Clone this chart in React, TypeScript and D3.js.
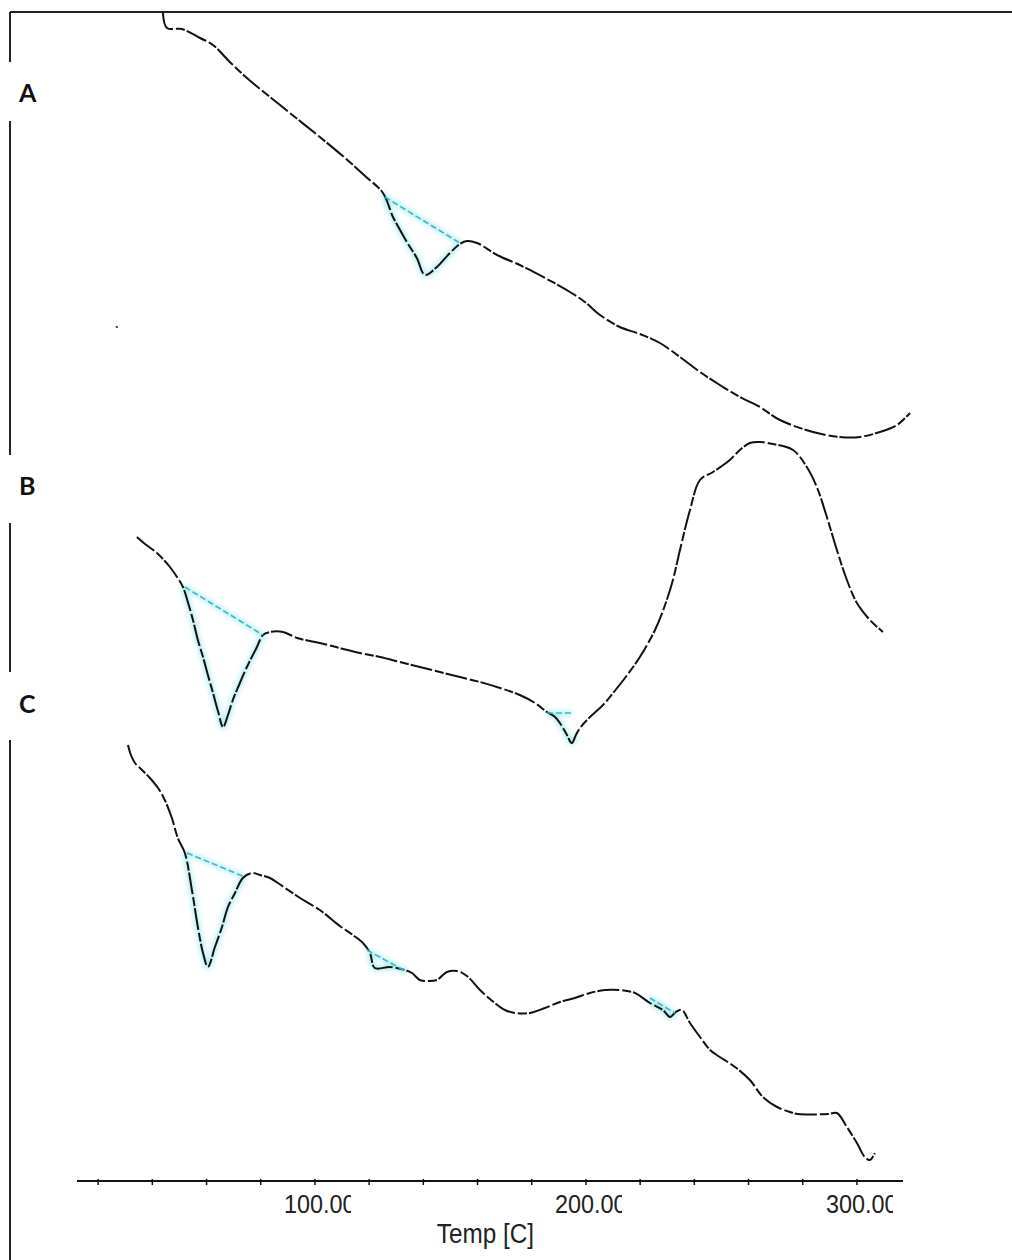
import React from 'react'
import * as d3 from 'd3'

const W = 1012
const H = 1260

// DSC traces, temperature in C and heat flow in stacked arbitrary units
const tempA = [43.9, 45.4, 50.9, 57.6, 62.4, 68.6, 74.9, 83.4, 92.6, 101.8, 111.1, 118.5, 125.1, 128.8, 131.4, 133.9, 137.6, 140.6, 145.0, 149.8, 153.5, 156.1, 159.8, 167.2, 175.6, 184.9, 194.1, 199.6, 205.2, 212.5, 219.9, 227.3, 234.7, 242.1, 249.4, 256.8, 264.2, 271.6, 283.8, 293.7, 301.1, 308.5, 314.8, 319.6]
const flowA = [116.8, 115.3, 115.2, 114.3, 113.6, 111.9, 110.3, 108.4, 106.4, 104.4, 102.3, 100.5, 98.8, 96.4, 95.1, 93.9, 92.3, 90.6, 91.4, 92.8, 93.7, 94.0, 93.8, 92.6, 91.6, 90.3, 88.9, 87.9, 86.6, 85.4, 84.7, 83.8, 82.4, 80.9, 79.6, 78.4, 77.4, 76.1, 74.9, 74.4, 74.4, 74.9, 75.6, 76.8]

const tempB = [34.3, 37.3, 41.7, 44.6, 46.5, 49.1, 51.3, 53.1, 55.0, 56.8, 58.7, 60.5, 62.4, 64.2, 66.1, 67.9, 69.7, 72.3, 74.9, 78.6, 80.8, 83.4, 88.2, 93.4, 101.8, 109.2, 116.6, 124.0, 131.4, 138.7, 146.1, 153.5, 160.9, 168.3, 175.6, 181.2, 185.6, 188.6, 190.4, 192.6, 194.8, 196.3, 197.8, 201.5, 206.3, 210.0, 214.4, 219.9, 225.5, 229.2, 232.1, 234.7, 238.4, 242.1, 246.9, 253.1, 256.8, 260.5, 264.2, 269.0, 276.4, 281.5, 285.2, 288.9, 292.6, 296.3, 300.0, 304.8, 309.6]
const flowB = [64.4, 63.7, 62.8, 62.0, 61.4, 60.4, 59.4, 57.9, 56.1, 54.1, 52.4, 50.6, 48.8, 47.0, 45.4, 46.6, 48.1, 49.8, 51.4, 53.4, 54.6, 54.9, 54.9, 54.3, 53.8, 53.3, 52.8, 52.4, 51.9, 51.4, 50.9, 50.4, 49.9, 49.3, 48.6, 47.8, 46.9, 46.4, 45.8, 44.8, 43.8, 44.6, 45.3, 46.4, 47.6, 48.8, 50.3, 52.4, 55.1, 57.6, 60.1, 63.1, 67.1, 70.1, 70.9, 72.1, 73.1, 73.8, 73.9, 73.7, 73.1, 71.4, 69.4, 66.4, 63.1, 60.1, 57.8, 56.1, 54.9]

const tempC = [31.0, 32.1, 33.6, 36.2, 39.1, 42.1, 44.6, 47.2, 49.4, 52.0, 54.6, 56.8, 58.7, 60.5, 63.1, 65.7, 67.9, 70.5, 73.4, 76.8, 79.7, 83.4, 86.3, 94.5, 101.8, 109.2, 114.0, 117.7, 120.3, 122.1, 127.7, 133.2, 135.8, 138.7, 141.7, 145.0, 148.7, 152.4, 156.1, 160.9, 166.4, 170.1, 173.8, 179.3, 184.9, 190.4, 195.9, 201.5, 207.0, 212.5, 218.1, 223.6, 228.4, 231.0, 233.2, 235.4, 238.4, 242.1, 245.8, 249.4, 255.0, 260.5, 265.3, 270.5, 275.3, 278.2, 289.3, 292.6, 296.3, 300.0, 302.9, 304.8, 306.6]
const flowC = [43.6, 42.6, 41.8, 41.1, 40.3, 39.3, 38.1, 36.3, 34.3, 32.8, 29.1, 25.4, 22.8, 21.4, 23.4, 25.4, 27.4, 28.8, 30.3, 30.8, 30.6, 30.3, 29.8, 28.3, 27.1, 25.5, 24.6, 23.8, 22.8, 21.3, 21.4, 21.1, 20.8, 20.1, 20.0, 20.1, 20.9, 21.0, 20.5, 19.1, 17.8, 17.1, 16.8, 16.8, 17.3, 17.9, 18.3, 18.8, 19.1, 19.1, 18.8, 17.8, 17.1, 16.4, 16.9, 17.1, 15.8, 14.4, 13.1, 12.4, 11.4, 10.1, 8.4, 7.4, 6.9, 6.7, 6.7, 6.8, 5.4, 3.8, 2.4, 2.1, 2.8]

// integration baselines: [onset temp, onset flow, end temp, end flow], one per peak
const baseA = [[125.8, 98.4, 153.5, 93.8]]
const baseB = [[52.0, 59.4, 80.8, 54.6], [185.6, 46.8, 194.8, 46.8]]
const baseC = [[52.8, 32.8, 74.2, 30.4], [119.2, 23.1, 133.9, 20.9], [223.6, 18.3, 232.8, 16.8]]

const panelLabels = ['A', 'B', 'C']
const tickTemps = d3.range(20, 301, 20)
const labelTemps = [100, 200, 300]
const tickLabels = ['100.00', '200.00', '300.00']
const axisTitle = 'Temp [C]'

// stray speck left of trace A
const speck = [26.9, 85.4]

const x = d3.scaleLinear().domain([12.2, 317]).range([77, 903])
const y = d3.scaleLinear().domain([0, 117]).range([1181, 11])
const axisY = y(0)

const line = d3
  .line<[number, number]>()
  .x(d => x(d[0]))
  .y(d => y(d[1]))
  .curve(d3.curveCatmullRom.alpha(0.5))

const zipUp = (t: number[], f: number[]) => t.map((v, i) => [v, f[i]] as [number, number])

const traces = [
  {pts: zipUp(tempA, flowA), base: baseA},
  {pts: zipUp(tempB, flowB), base: baseB},
  {pts: zipUp(tempC, flowC), base: baseC}
]

// left frame is broken where the panel letters sit
const frameLeft = 10
const frameTop = 12
const frameGaps = [[12, 62], [121, 455], [523, 672], [740, 1260]]
const labelBase = [102, 495, 713]

const cyan = '#4fd3dc'

export default function App() {
  return (
    <svg
      width={W}
      height={H}
      style={{position: 'absolute', left: 0, top: 0, background: '#fff'}}
    >
      <defs>
        <filter id="glow" x="-20%" y="-20%" width="140%" height="140%">
          <feGaussianBlur stdDeviation="2.5" />
        </filter>
        {/* the instrument cuts the last digit of each label in half */}
        {labelTemps.map((t, i) => (
          <clipPath key={i} id={'lab' + i}>
            <rect x={x(t) - 34} y={axisY} width={70} height={40} />
          </clipPath>
        ))}
      </defs>

      {/* frame */}
      <line x1={frameLeft} x2={W} y1={frameTop} y2={frameTop} stroke="#222" strokeWidth={2} />
      {frameGaps.map((g, i) => (
        <line key={i} x1={frameLeft} x2={frameLeft} y1={g[0]} y2={g[1]} stroke="#222" strokeWidth={2} />
      ))}
      {panelLabels.map((l, i) => (
        <text
          key={l}
          x={19}
          y={labelBase[i]}
          fontFamily="Lato, 'Open Sans', sans-serif"
          fontWeight={700}
          fontSize={25}
          fill="#111"
        >
          {l}
        </text>
      ))}

      {/* peak glow, under the traces */}
      {traces.map((tr, i) =>
        tr.base.map((b, j) => {
          const seg = tr.pts.filter(p => p[0] >= b[0] - 1 && p[0] <= b[2] + 1.5)
          return (
            <g key={i + '-' + j} filter="url(#glow)" opacity={0.45}>
              <path d={line(seg) || ''} fill="none" stroke={cyan} strokeWidth={5} />
              <line x1={x(b[0])} y1={y(b[1])} x2={x(b[2])} y2={y(b[3])} stroke={cyan} strokeWidth={4} />
            </g>
          )
        })
      )}

      {/* traces */}
      {traces.map((tr, i) => (
        <path
          key={i}
          d={line(tr.pts) || ''}
          fill="none"
          stroke="#111"
          strokeWidth={2}
          strokeDasharray="22 3 9 2"
        />
      ))}

      {/* baselines */}
      {traces.map((tr, i) =>
        tr.base.map((b, j) => (
          <line
            key={i + '-' + j}
            x1={x(b[0])}
            y1={y(b[1])}
            x2={x(b[2])}
            y2={y(b[3])}
            stroke="#35b9c2"
            strokeWidth={1.6}
            strokeDasharray="6 3"
          />
        ))
      )}

      <rect x={x(speck[0]) - 1} y={y(speck[1]) - 1} width={2} height={2} fill="#444" />

      {/* temperature axis */}
      <line x1={x.range()[0]} x2={x.range()[1]} y1={axisY} y2={axisY} stroke="#111" strokeWidth={2} />
      {tickTemps.map(t => (
        <line key={t} x1={x(t)} x2={x(t)} y1={axisY - 2} y2={axisY + 4} stroke="#111" strokeWidth={1.5} />
      ))}
      {labelTemps.map((t, i) => (
        <g key={t} clipPath={`url(#lab${i})`}>
          <text
            transform={`translate(${x(t) - 31},${axisY + 32}) scale(0.9,1)`}
            fontFamily="'Liberation Sans', Arial, sans-serif"
            fontSize={26}
            fill="#222"
          >
            {tickLabels[i]}
          </text>
        </g>
      ))}
      <text
        transform={`translate(${(x(labelTemps[0]) + x(labelTemps[1])) / 2 + 35},${axisY + 62}) scale(0.9,1)`}
        textAnchor="middle"
        fontFamily="'Liberation Sans', Arial, sans-serif"
        fontSize={27}
        fill="#222"
      >
        {axisTitle}
      </text>
    </svg>
  )
}
